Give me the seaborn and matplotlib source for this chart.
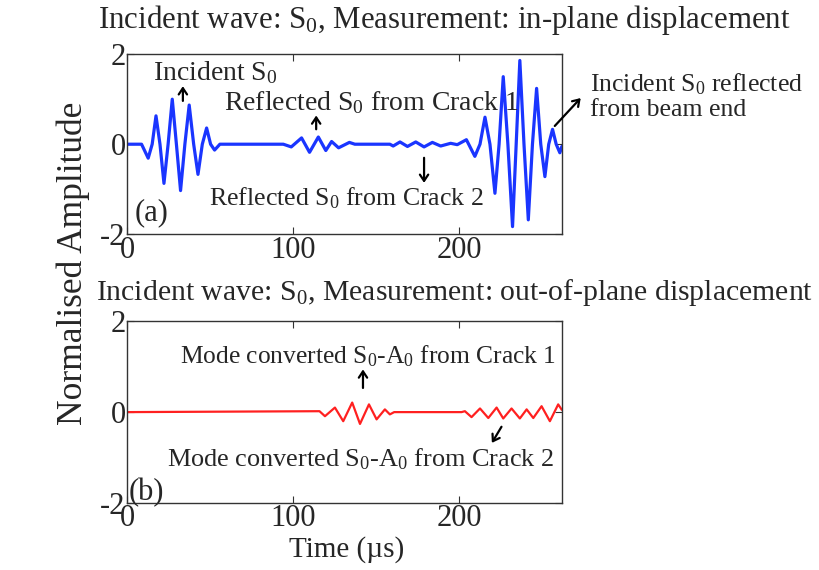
import matplotlib
matplotlib.use('Agg')
import matplotlib.pyplot as plt
import seaborn as sns
import pandas as pd

# waveform: extrema and zero crossings (time in us, normalised amplitude)
inplane_t = [0, 8.8, 12.8, 15.2, 17.5, 19.9, 22.3, 24.8, 27.3, 29.8, 32.3, 34.9,
             37.5, 40.2, 42.8, 45.4, 48, 50.4, 52.8, 56,
             94.2, 99, 105.2, 110, 115.3, 119.8, 123.3, 127.5, 134, 137.3,
             158.4, 160.4, 164.5, 169, 174, 179, 184, 189, 195, 199,
             204.5, 209.6, 212.7, 215.7, 218.7, 221.7, 224.2, 226.7, 229.5,
             232.3, 234.5, 236.7, 239.2, 241.8, 244.3, 246.8, 249.3,
             251.8, 254.1, 256.4, 258.6, 260.8, 262]
inplane_amp = [0, 0, -0.31, 0, 0.63, 0, -0.87, 0, 1.0, 0, -1.03, 0,
               0.87, 0, -0.67, 0, 0.36, 0, -0.13, 0,
               0, -0.06, 0.14, -0.18, 0.16, -0.14, 0.06, -0.08, 0.04, 0,
               0, -0.04, 0.05, -0.05, 0.05, -0.06, 0.04, -0.04, 0.02, -0.01,
               0.1, -0.27, 0, 0.6, 0, -1.09, 0, 1.5, 0,
               -1.83, 0, 1.86, 0, -1.68, 0, 1.24, 0,
               -0.72, 0, 0.33, 0, -0.19, -0.05]

outplane_t = [0, 116, 119.3, 125.3, 130.3, 135.7, 140.4, 145.8, 150.4, 155.4,
              158.4, 161, 201.6, 203.6, 207.6, 212.7, 217.7, 222.7, 226.7,
              231.7, 236.7, 240.8, 244.8, 249.8, 254.8, 259.8, 262]
outplane_amp = [0, 0.02, -0.09, 0.1, -0.2, 0.21, -0.26, 0.17, -0.16, 0.06,
                -0.05, 0, 0, 0.02, -0.11, 0.08, -0.13, 0.1, -0.14,
                0.08, -0.14, 0.06, -0.13, 0.13, -0.2, 0.17, 0.05]

x_ticks = [0, 100, 200]
y_ticks = [-2, 0, 2]

sns.set_style('ticks')
plt.rcParams['font.family'] = ['Liberation Serif', 'DejaVu Serif']
plt.rcParams['mathtext.fontset'] = 'custom'
plt.rcParams['mathtext.rm'] = 'Liberation Serif'
plt.rcParams['mathtext.it'] = 'Liberation Serif:italic'
plt.rcParams['axes.unicode_minus'] = False

fig = plt.figure(figsize=(8.19, 5.70), dpi=100)
ax1 = fig.add_axes([0.155, 0.589, 0.531, 0.316])
ax2 = fig.add_axes([0.155, 0.1175, 0.531, 0.319])

df1 = pd.DataFrame({'t': inplane_t, 'amp': inplane_amp})
df2 = pd.DataFrame({'t': outplane_t, 'amp': outplane_amp})
sns.lineplot(data=df1, x='t', y='amp', ax=ax1, color='#1a35ff', lw=2.3)
sns.lineplot(data=df2, x='t', y='amp', ax=ax2, color='#ff2020', lw=1.6)

for ax in (ax1, ax2):
    ax.set_xlim(0, 262)
    ax.set_ylim(-2, 2)
    ax.set_xticks(x_ticks)
    ax.set_yticks(y_ticks)
    ax.set_xlabel('')
    ax.set_ylabel('')
    ax.tick_params(direction='in', top=True, right=True, labelsize=22,
                   length=5, color='#333333', pad=1)
    for s in ax.spines.values():
        s.set_color('#333333')
        s.set_linewidth(1.0)

fig.text(444 / 819, 1 - 20 / 570,
         r'Incident wave: S$_{\mathrm{0}}$, Measurement: in-plane displacement',
         fontsize=22.2, ha='center', va='center')
fig.text(455 / 819, 1 - 293 / 570,
         r'Incident wave: S$_{\mathrm{0}}$, Measurement: out-of-plane displacement',
         fontsize=21.4, ha='center', va='center')

arr = dict(arrowstyle='->,head_length=0.45,head_width=0.3', color='black', lw=1.6)

# panel (a)
ax1.text(53, 1.58, r'Incident S$_{\mathrm{0}}$', fontsize=20, ha='center', va='center')
ax1.annotate('', xy=(33.7, 1.35), xytext=(33.7, 0.9), arrowprops=arr)
ax1.text(147, 0.92, r'Reflected S$_{\mathrm{0}}$ from Crack 1', fontsize=20,
         ha='center', va='center')
ax1.annotate('', xy=(114, 0.7), xytext=(114, 0.27), arrowprops=arr)
ax1.text(132, -1.19, r'Reflected S$_{\mathrm{0}}$ from Crack 2', fontsize=18.6,
         ha='center', va='center')
ax1.annotate('', xy=(179, -0.92), xytext=(179, -0.24), arrowprops=arr)
ax1.text(279, 1.07, 'Incident S$_{\\mathrm{0}}$ reflected\nfrom beam end', fontsize=18.5,
         ha='left', va='center', linespacing=1.15)
ax1.annotate('', xy=(274.5, 1.07), xytext=(256.6, 0.36), arrowprops=arr,
             annotation_clip=False)
ax1.text(15, -1.53, '(a)', fontsize=22, ha='center', va='center')

# panel (b)
ax2.text(145, 1.24, r'Mode converted S$_{\mathrm{0}}$-A$_{\mathrm{0}}$ from Crack 1',
         fontsize=18.4, ha='center', va='center')
ax2.annotate('', xy=(142.2, 1.0), xytext=(142.2, 0.47), arrowprops=arr)
ax2.text(140.7, -1.04, r'Mode converted S$_{\mathrm{0}}$-A$_{\mathrm{0}}$ from Crack 2',
         fontsize=18.9, ha='center', va='center')
ax2.annotate('', xy=(219, -0.73), xytext=(226.5, -0.27), arrowprops=arr)
ax2.text(12, -1.76, '(b)', fontsize=22, ha='center', va='center')

fig.text(347 / 819, 1 - 550 / 570, 'Time (\u00b5s)', fontsize=21, ha='center', va='center')
fig.text(73 / 819, 1 - 263 / 570, 'Normalised Amplitude', rotation=90, fontsize=25.5,
         ha='center', va='center')

fig.savefig('out.png', dpi=100)
